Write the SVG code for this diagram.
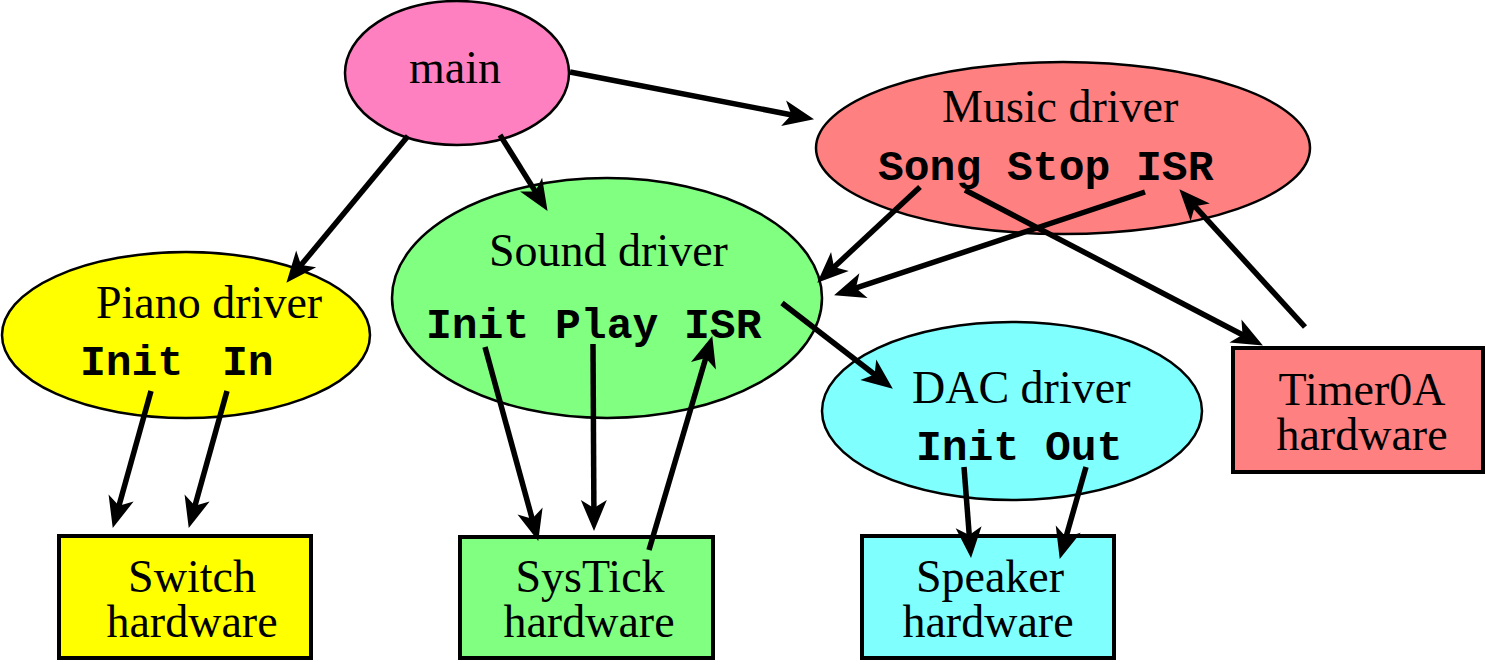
<svg xmlns="http://www.w3.org/2000/svg" width="1486" height="672" viewBox="0 0 1486 672">
<style>
.ell{stroke:#000;stroke-width:2.5}
.box{stroke:#000;stroke-width:4}
.serif{font-family:"Liberation Serif","Times New Roman",serif;font-size:46px;fill:#000}
.mono{font-family:"Liberation Mono","Courier New",monospace;font-size:43px;font-weight:bold;fill:#000}
.mid{text-anchor:middle}
.conn line{stroke:#000;stroke-width:5.5;marker-end:url(#ah)}
</style>
<defs>
<marker id="ah" markerUnits="userSpaceOnUse" markerWidth="34" markerHeight="30" refX="10" refY="15" orient="auto" overflow="visible">
<path d="M0,2 L31,15 L0,28 L8,15 Z" fill="#000"/>
</marker>
</defs>
<rect width="1486" height="672" fill="#fff"/>
<g id="main">
<ellipse class="ell" cx="457" cy="73" rx="112" ry="72" fill="#FF80C0"/>
<text class="serif" x="409" y="83">main</text>
</g>
<g id="music">
<ellipse class="ell" cx="1063" cy="148" rx="247" ry="86" fill="#FF8080"/>
<text class="serif" x="942" y="122">Music driver</text>
<text class="mono" x="878" y="180">Song Stop ISR</text>
</g>
<g id="sound">
<ellipse class="ell" cx="607" cy="298" rx="215" ry="120" fill="#80FF80"/>
<text class="serif" x="489" y="266">Sound driver</text>
<text class="mono" x="426" y="338">Init Play ISR</text>
</g>
<g id="piano">
<ellipse class="ell" cx="186" cy="335" rx="184" ry="83" fill="#FFFF00"/>
<text class="serif" x="96" y="318">Piano driver</text>
<text class="mono" x="80" y="375">Init<tspan x="222">In</tspan></text>
</g>
<g id="dac">
<ellipse class="ell" cx="1012" cy="411" rx="190" ry="89" fill="#80FFFF"/>
<text class="serif" x="912" y="403">DAC driver</text>
<text class="mono" x="916" y="460">Init Out</text>
</g>
<g id="timer0a">
<rect class="box" x="1233" y="348" width="250" height="124" fill="#FF8080"/>
<text class="serif mid" x="1362" y="405">Timer0A</text>
<text class="serif mid" x="1362" y="450">hardware</text>
</g>
<g id="switch">
<rect class="box" x="59" y="536" width="252" height="122" fill="#FFFF00"/>
<text class="serif mid" x="192" y="592">Switch</text>
<text class="serif mid" x="192" y="637">hardware</text>
</g>
<g id="systick">
<rect class="box" x="460" y="537" width="253" height="121" fill="#80FF80"/>
<text class="serif mid" x="590" y="592">SysTick</text>
<text class="serif mid" x="589" y="637">hardware</text>
</g>
<g id="speaker">
<rect class="box" x="862" y="536" width="252" height="122" fill="#80FFFF"/>
<text class="serif mid" x="990" y="592">Speaker</text>
<text class="serif mid" x="988" y="637">hardware</text>
</g>
<g id="connectors" class="conn">
<line x1="570" y1="72" x2="793.4" y2="115.2"/>
<line x1="408" y1="136" x2="299.8" y2="266.6"/>
<line x1="500" y1="135" x2="536.4" y2="193.1"/>
<line x1="920" y1="187" x2="832.6" y2="268.4"/>
<line x1="1145" y1="192" x2="854" y2="288.7"/>
<line x1="965" y1="190" x2="1244.3" y2="335.7"/>
<line x1="1305" y1="327" x2="1193.5" y2="204.8"/>
<line x1="782" y1="303" x2="876.2" y2="375.8"/>
<line x1="151" y1="391" x2="118.4" y2="507.7"/>
<line x1="227" y1="391" x2="194.4" y2="507.7"/>
<line x1="485" y1="347" x2="532.7" y2="520.7"/>
<line x1="593" y1="344" x2="593.9" y2="510"/>
<line x1="649" y1="550" x2="706.3" y2="356.2"/>
<line x1="964" y1="467" x2="969.4" y2="537.1"/>
<line x1="1086" y1="467" x2="1065.5" y2="538.8"/>
</g>
</svg>
